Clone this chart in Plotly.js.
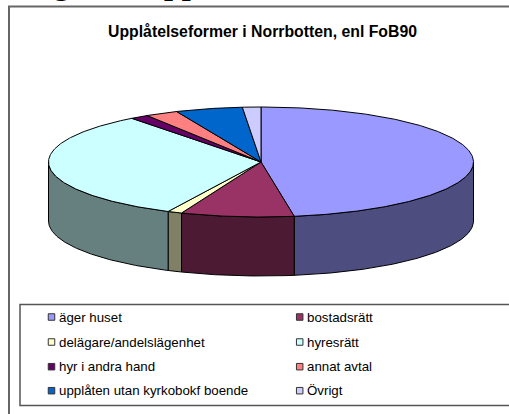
<!DOCTYPE html>
<html><head><meta charset="utf-8">
<script src="https://cdn.plot.ly/plotly-3.0.1.min.js"></script>
<style>html,body{margin:0;padding:0;background:#fff;overflow:hidden}#c{width:509px;height:414px}</style>
</head><body><div id="c"></div>
<script>
const categories = ["äger huset","bostadsrätt","delägare/andelslägenhet","hyresrätt","hyr i andra hand","annat avtal","upplåten utan kyrkobokf boende","Övrigt"];
const shares = [47.5,8.6,1.1,32.4,1.4,2.5,5.1,1.4];
const topColors = ["#9999FF","#993366","#FFFFCC","#CCFFFF","#660066","#FF8080","#0066CC","#CCCCFF"];
const sideColors = ["#4D4D80","#4D1A33","#808066","#668080","#330033","#804040","#003366","#666680"];
const titleText = "Upplåtelseformer i Norrbotten, enl FoB90";
const headingText = "Figur 1. Upplåtelseformer";

const cx=261, cy=162, rx=212.5, ry=55, depth=59;
const total = shares.reduce((a,b)=>a+b,0);
const px = t => cx + rx*Math.sin(t);
const py = (t,d=0) => cy - ry*Math.cos(t) + d;
const arc = (a,b) => { const n=Math.max(2,Math.ceil((b-a)/0.01)); const r=[]; for(let i=0;i<=n;i++) r.push(a+(b-a)*i/n); return r; };

const topTraces=[], sideTraces=[];
let acc=0;
shares.forEach((v,i)=>{
  const a=acc/total*2*Math.PI, b=(acc+v)/total*2*Math.PI; acc+=v;
  const ts=arc(a,b);
  topTraces.push({type:'scatter',mode:'lines',x:[cx,...ts.map(px),cx],y:[cy,...ts.map(t=>py(t)),cy],
    fill:'toself',fillcolor:topColors[i],line:{color:'#000',width:1},hoverinfo:'skip',showlegend:false});
  const s=Math.max(a,Math.PI/2), e=Math.min(b,3*Math.PI/2);
  if(e>s){
    const tw=arc(s,e);
    sideTraces.push({type:'scatter',mode:'lines',
      x:[...tw.map(px),...tw.slice().reverse().map(px),px(s)],
      y:[...tw.map(t=>py(t)),...tw.slice().reverse().map(t=>py(t,depth)),py(s)],
      fill:'toself',fillcolor:sideColors[i],line:{color:'#000',width:1},hoverinfo:'skip',showlegend:false});
  }
});

const colX=[51.5,299.7], rowY=[317,342,366.7,390.7];
const swatches={type:'scatter',mode:'markers',
  x:categories.map((_,i)=>colX[i%2]),y:categories.map((_,i)=>rowY[Math.floor(i/2)]),
  marker:{symbol:'square',size:6.5,color:topColors,line:{color:'#333',width:1}},hoverinfo:'skip',showlegend:false};
const annotations=categories.map((c,i)=>({text:c,x:colX[i%2]+6.5,y:rowY[Math.floor(i/2)],xref:'x',yref:'y',
  xanchor:'left',yanchor:'middle',showarrow:false,borderpad:0,font:{family:'Liberation Sans',size:13.3,color:'#000'}}));
annotations.push({text:'<b>'+titleText+'</b>',x:262.5,y:31,xref:'x',yref:'y',xanchor:'center',yanchor:'middle',showarrow:false,
  font:{family:'Liberation Sans',size:15.8,color:'#000'}});
annotations.push({text:'<b>'+headingText+'</b>',x:24,y:0,xref:'x',yref:'y',xanchor:'left',yanchor:'bottom',yshift:-2,showarrow:false,borderpad:0,
  font:{family:'Liberation Serif',size:32,color:'#000'}});

const shapes=[
 {type:'rect',xref:'x',yref:'y',x0:9,x1:520,y0:6.5,y1:430,line:{color:'#666',width:2},fillcolor:'#fff',layer:'below'},
 {type:'rect',xref:'x',yref:'y',x0:20,x1:520,y0:304.5,y1:405.5,line:{color:'#555',width:1.5},fillcolor:'#fff',layer:'below'}
];
Plotly.newPlot('c',[...sideTraces,...topTraces,swatches],{
  width:509,height:414,margin:{l:0,r:0,t:0,b:0},paper_bgcolor:'#fff',plot_bgcolor:'#fff',
  xaxis:{range:[0,509],visible:false,fixedrange:true},
  yaxis:{range:[414,0],visible:false,fixedrange:true},
  shapes,annotations,showlegend:false
},{displayModeBar:false,staticPlot:true});
</script></body></html>
